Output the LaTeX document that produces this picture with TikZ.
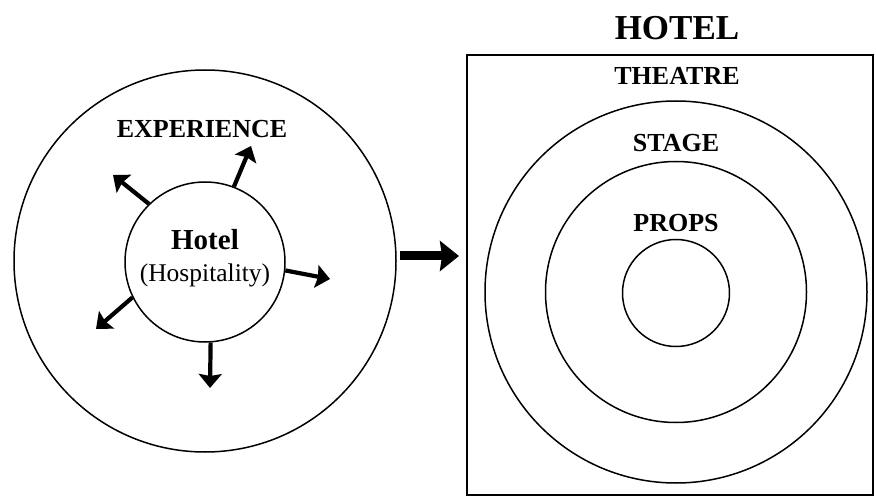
\documentclass[tikz,border=0pt]{standalone}
\usepackage{fontspec}
\setmainfont{Liberation Serif}
\usetikzlibrary{arrows.meta}
\begin{document}
\begin{tikzpicture}[x=1pt,y=-1pt,
  ring/.style={draw, circle, line width=1.5pt, inner sep=0pt},
  ray/.style={line width=4.2pt, -{Stealth[length=14pt,width=23pt,inset=2pt]}},
  caplabel/.style={anchor=base, inner sep=0pt, font=\bfseries\fontsize{26}{28}\selectfont},
  bigarrow/.style={line width=9pt, -{Stealth[length=19pt,width=30pt,inset=2pt]}}]
\useasboundingbox (0,0) rectangle (876,497);
% left diagram
\node[ring, minimum size=382pt] (outerL) at (205,261) {};
\node[ring, minimum size=160pt] (hotelc) at (205,262) {};
\node[anchor=base, inner sep=0pt, font=\bfseries\fontsize{29}{31}\selectfont] (hotel) at (205,250) {Hotel};
\node[anchor=base, inner sep=0pt, font=\fontsize{25.5}{27}\selectfont] (hosp) at (205,282) {(Hospitality)};
\node[caplabel] (exp) at (202,138) {EXPERIENCE};
\coordinate (t1) at (251,146);
\coordinate (t2) at (113,175);
\coordinate (t3) at (330,279);
\coordinate (t4) at (96,329);
\coordinate (t5) at (210,388);
\draw[ray] (hotelc.69) -- (t1);
\draw[ray] (hotelc.134) -- (t2);
\draw[ray] (hotelc.-6) -- (t3);
\draw[ray] (hotelc.206) -- (t4);
\draw[ray] (hotelc.-86.5) -- (t5);
% right diagram
\node[draw, line width=2pt, minimum width=406pt, minimum height=440pt, inner sep=0pt] (box) at (670,275) {};
\node[anchor=base, inner sep=0pt, font=\bfseries\fontsize{35}{37}\selectfont] (hoteltitle) at (677,40) {HOTEL};
\node[caplabel] (theatre) at (677,85) {THEATRE};
\node[ring, minimum size=382pt] (r1) at (676,292) {};
\node[ring, minimum size=261pt] (r2) at (676,292) {};
\node[ring, minimum size=107pt] (r3) at (676,293) {};
\node[caplabel] (stage) at (676,152) {STAGE};
\node[caplabel] (props) at (676,232) {PROPS};
% connecting arrow
\coordinate (a0) at (400,256);
\coordinate (a1) at (459,256);
\draw[bigarrow] (a0) -- (a1);
\end{tikzpicture}
\end{document}
